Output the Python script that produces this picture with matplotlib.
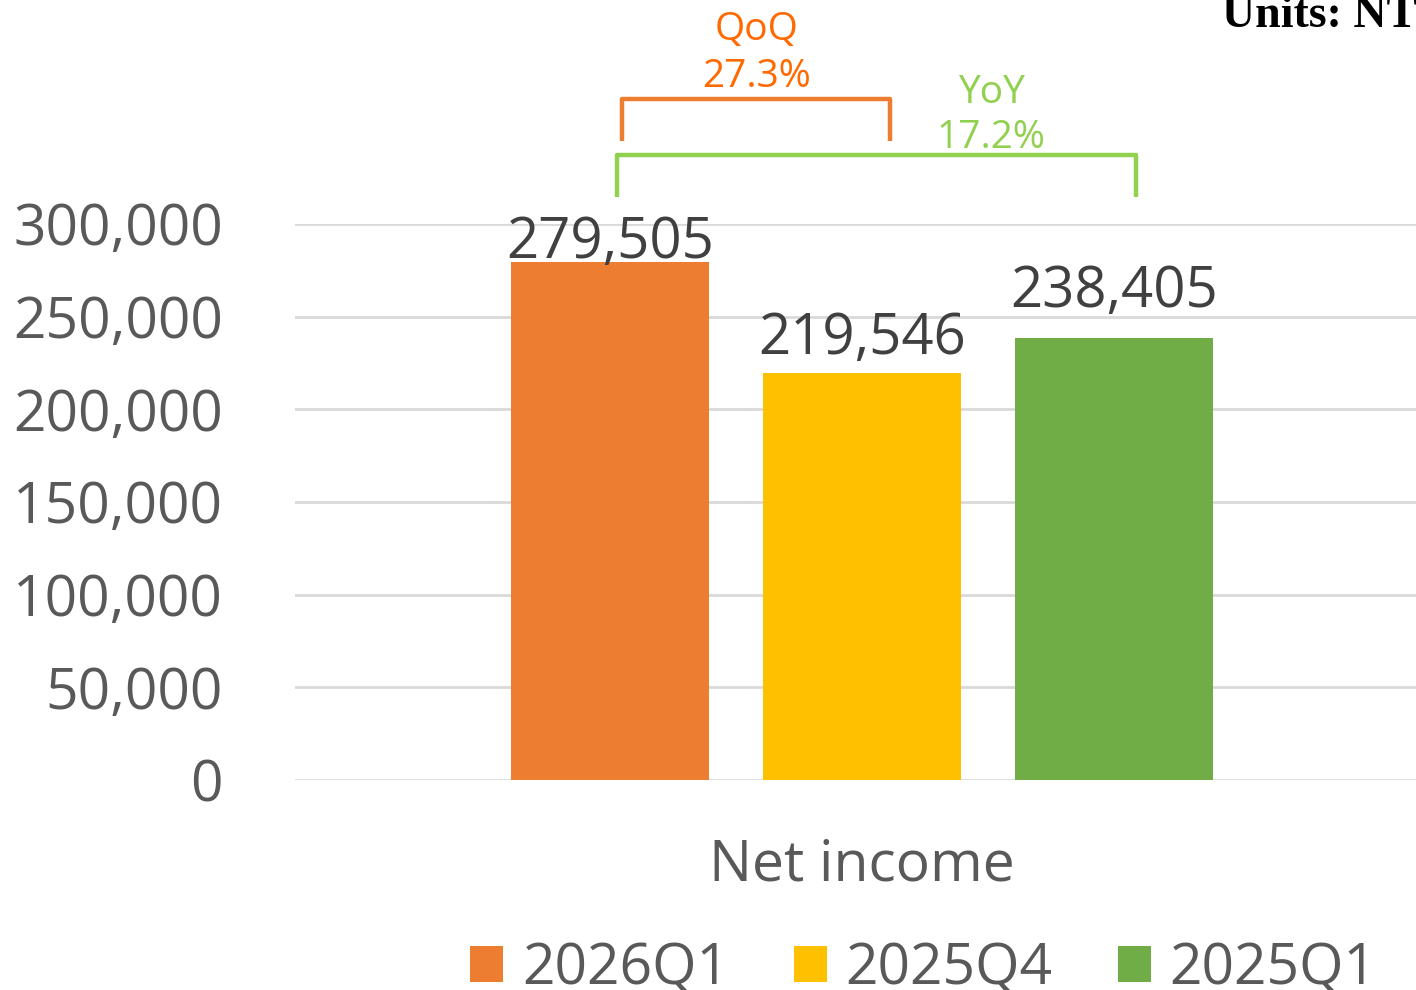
import matplotlib
matplotlib.use("Agg")
import matplotlib.pyplot as plt
import matplotlib.transforms as mtransforms

# --- data ---
series = ["2026Q1", "2025Q4", "2025Q1"]
values = [279505, 219546, 238405]
colors = ["#ED7D31", "#FFC000", "#70AD47"]
category = "Net income"
yticks = [0, 50000, 100000, 150000, 200000, 250000, 300000]
qoq_name, qoq_pct = "QoQ", "27.3%"
yoy_name, yoy_pct = "YoY", "17.2%"
units = "Units: NT$ Million"

# layout: gap (px) between each value label and its bar, as placed in the original
LABEL_GAP_PX = [4, 19, 31]

FONT = "Open Sans"
W, H = 1416, 990
fig = plt.figure(figsize=(W / 100, H / 100), dpi=100)
fig.patch.set_facecolor("white")

ax = fig.add_axes([295 / W, (H - 780) / H, (W - 295) / W, 556 / H])
x = list(range(len(values)))
bars = ax.bar(x, values, width=0.786, color=colors, zorder=3)

ax.set_xlim(-1.25, 3.198)
ax.set_ylim(0, 300000)
ax.set_yticks(yticks)
ax.set_yticklabels([f"{v:,}" for v in yticks], fontsize=41, color="#595959", family=FONT)
ax.tick_params(axis="y", length=0, pad=52)
ax.set_xticks([])
ax.grid(axis="y", color="#d9d9d9", lw=2, zorder=0)
for s in ax.spines.values():
    s.set_visible(False)
ax.set_axisbelow(True)

# value labels
for xi, v, gap in zip(x, values, LABEL_GAP_PX):
    ax.annotate(f"{v:,}", (xi, v), xytext=(0, gap * 0.72), textcoords="offset points",
                ha="center", va="baseline", fontsize=40.5, color="#404040", family=FONT)

# category label
trans = mtransforms.blended_transform_factory(ax.transData, ax.transAxes)
ax.text(1.0, -0.18, category, transform=trans, ha="center", va="baseline",
        fontsize=41, color="#595959", family=FONT)

# brackets (positions relative to bar centres)
def bracket(x0, x1, ytop, ybot, color):
    ax.plot([x0, x0, x1, x1], [ybot, ytop, ytop, ybot], color=color, lw=3.2,
            solid_joinstyle="round", solid_capstyle="butt", clip_on=False, zorder=4)

bracket(x[0] + 0.048, x[1] + 0.111, 367400, 344800, "#ED7D31")
bracket(x[0] + 0.028, x[2] + 0.087, 337200, 314600, "#92D050")

ax.text(x[0] + 0.583, 399300, qoq_name, ha="center", va="baseline", fontsize=28,
        color="#FF6A00", family=FONT, clip_on=False)
ax.text(x[0] + 0.583, 373900, qoq_pct, ha="center", va="baseline", fontsize=28,
        color="#FF6A00", family=FONT, clip_on=False)
ax.text(x[1] + 0.512, 365300, yoy_name, ha="center", va="baseline", fontsize=28,
        color="#92D050", family=FONT, clip_on=False)
ax.text(x[1] + 0.512, 341000, yoy_pct, ha="center", va="baseline", fontsize=28,
        color="#92D050", family=FONT, clip_on=False)

# units
fig.text(1222 / W, (H - 27) / H, units, ha="left", va="baseline", fontsize=33,
         fontweight="bold", family="Liberation Serif", color="black")

# legend
leg = fig.legend(handles=bars, labels=series, loc="upper left",
                 bbox_to_anchor=(470 / W, (H - 941) / H), bbox_transform=fig.transFigure,
                 ncol=3, frameon=False, handlelength=0.58, handleheight=0.58,
                 handletextpad=0.33, columnspacing=1.14, borderpad=0, borderaxespad=0,
                 prop={"family": FONT, "size": 41})
for t in leg.get_texts():
    t.set_color("#595959")

fig.savefig("out.png", dpi=100)
